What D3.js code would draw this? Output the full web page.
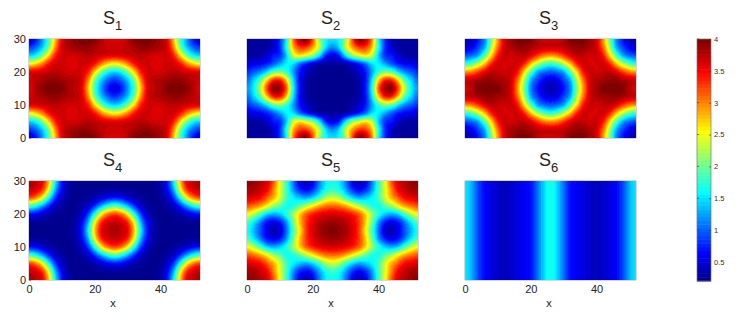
<!DOCTYPE html>
<html>
<head>
<meta charset="utf-8">
<title>S1 - S6</title>
<script src="https://cdn.jsdelivr.net/npm/d3@7"></script>
<style>
  body { margin: 0; background: #fff; }
  #chart { position: relative; width: 747px; height: 318px; overflow: hidden; }
  canvas { position: absolute; }
  svg { position: absolute; left: 0; top: 0; }
  text { font-family: "Liberation Sans", Arial, sans-serif; }
</style>
</head>
<body>
<div id="chart"></div>
<script>
// values, one quarter of each panel (the panels are mirror symmetric)
// rows are y = 0, 2.5 ... 15, columns are x = 0, 2 ... 26
const S1 = [
  [.5, .7, 1.2, 1.85, 2.8, 3.6, 3.84, 3.94, 4.0, 4.0, 3.96, 3.78, 3.66, 3.62],
  [.82, 1.0, 1.38, 2.05, 3.0, 3.66, 3.82, 3.88, 3.94, 3.92, 3.84, 3.76, 3.72, 3.7],
  [1.45, 1.6, 2.05, 2.7, 3.4, 3.66, 3.68, 3.68, 3.74, 3.78, 3.74, 3.68, 3.62, 3.6],
  [2.55, 2.7, 3.03, 3.45, 3.66, 3.68, 3.66, 3.66, 3.68, 3.66, 3.45, 3.03, 2.7, 2.55],
  [3.6, 3.62, 3.68, 3.74, 3.78, 3.74, 3.68, 3.68, 3.66, 3.4, 2.7, 2.05, 1.6, 1.45],
  [3.7, 3.76, 3.84, 3.92, 3.94, 3.88, 3.82, 3.78, 3.64, 3.0, 2.05, 1.38, 1.0, .82],
  [3.62, 3.78, 3.96, 4.0, 4.0, 4.0, 3.84, 3.76, 3.6, 2.8, 1.85, 1.2, .7, .5]
];
const S2 = [
  [.3, .25, .25, .28, .4, .8, 1.6, 3.0, 3.75, 3.95, 3.2, 2.15, 1.6, 1.45],
  [.25, .25, .25, .28, .42, .8, 1.7, 2.8, 3.3, 3.3, 2.9, 2.3, 1.45, 1.15],
  [.3, .28, .3, .42, .7, .8, 1.4, 2.3, 2.6, 2.4, 2.1, 1.5, .75, .5],
  [.5, .55, .6, .72, .95, 1.25, 1.55, 1.5, 1.05, .75, .5, .33, .27, .26],
  [.8, .95, 1.15, 1.5, 1.95, 2.05, 1.8, 1.25, .7, .42, .28, .24, .22, .22],
  [1.05, 1.4, 1.9, 2.7, 3.35, 3.4, 2.7, 1.5, .65, .3, .22, .21, .2, .2],
  [1.2, 1.55, 2.25, 3.2, 3.95, 3.85, 3.15, 1.65, .7, .3, .22, .2, .2, .2]
];
const S3 = [
  [.35, .42, .7, 1.15, 2.05, 2.95, 3.66, 3.86, 4.0, 4.0, 3.98, 3.78, 3.68, 3.66],
  [.48, .58, .87, 1.3, 2.25, 3.1, 3.68, 3.82, 3.92, 3.92, 3.84, 3.76, 3.72, 3.7],
  [.95, 1.03, 1.28, 1.93, 2.7, 3.45, 3.72, 3.68, 3.74, 3.76, 3.6, 3.3, 3.05, 2.95],
  [1.75, 1.93, 2.3, 2.8, 3.4, 3.68, 3.66, 3.66, 3.68, 3.4, 2.8, 2.3, 1.93, 1.75],
  [2.95, 3.05, 3.3, 3.6, 3.76, 3.74, 3.68, 3.72, 3.45, 2.7, 1.93, 1.28, 1.03, .95],
  [3.7, 3.76, 3.84, 3.92, 3.92, 3.86, 3.82, 3.68, 3.1, 2.25, 1.3, .87, .58, .48],
  [3.66, 3.78, 3.98, 4.0, 4.0, 4.0, 3.86, 3.66, 2.95, 2.05, 1.15, .7, .42, .35]
];
const S4 = [
  [3.85, 3.75, 3.55, 2.75, 1.55, .68, .3, .22, .2, .2, .2, .21, .21, .21],
  [3.72, 3.66, 3.35, 2.5, 1.3, .6, .28, .22, .2, .21, .22, .24, .25, .27],
  [3.25, 3.05, 2.55, 1.68, .85, .4, .24, .21, .22, .25, .33, .46, .62, .68],
  [1.88, 1.68, 1.28, .8, .42, .27, .22, .22, .27, .42, .8, 1.28, 1.68, 1.88],
  [.68, .62, .46, .33, .25, .22, .21, .24, .4, .85, 1.68, 2.55, 3.05, 3.25],
  [.27, .25, .24, .22, .21, .2, .22, .28, .6, 1.3, 2.5, 3.35, 3.66, 3.72],
  [.21, .21, .21, .2, .2, .2, .22, .3, .68, 1.55, 2.75, 3.55, 3.75, 3.85]
];
const S5 = [
  [3.95, 3.9, 3.8, 3.65, 3.2, 2.5, 1.8, 1.1, .55, .35, .6, 1.1, 1.55, 1.65],
  [3.85, 3.85, 3.72, 3.55, 3.05, 2.45, 1.85, 1.2, .75, .6, .8, 1.25, 1.65, 1.8],
  [3.65, 3.6, 3.5, 3.2, 2.85, 2.4, 1.85, 1.55, 1.35, 1.25, 1.45, 1.8, 2.2, 2.35],
  [3.2, 3.1, 2.9, 2.6, 2.2, 1.95, 1.65, 1.7, 1.95, 2.25, 2.55, 2.85, 3.05, 3.1],
  [2.55, 2.3, 1.9, 1.45, 1.3, 1.4, 1.7, 2.15, 2.7, 3.15, 3.4, 3.55, 3.62, 3.65],
  [1.9, 1.55, 1.1, .7, .55, .7, 1.2, 2.0, 2.75, 3.3, 3.6, 3.78, 3.86, 3.9],
  [1.65, 1.35, .95, .55, .35, .45, 1.05, 1.85, 2.6, 3.3, 3.65, 3.85, 3.95, 4.0]
];
// S6 has no y dependence, same columns
const S6_ROW = [1.5, 1.3, .9, .62, .5, .42, .4, .42, .5, .58, .68, 1.05, 1.45, 1.65];
const S6 = [S6_ROW, S6_ROW, S6_ROW, S6_ROW, S6_ROW, S6_ROW, S6_ROW];

const PANELS = [S1, S2, S3, S4, S5, S6];
const SUBSCRIPTS = ["1", "2", "3", "4", "5", "6"];
const X_TICKS = [0, 20, 40];
const Y_TICKS = [0, 10, 20, 30];
const CBAR_TICKS = [0.5, 1, 1.5, 2, 2.5, 3, 3.5, 4];
const X_MAX = 52;
const Y_MAX = 30;
const V_MIN = 0.2;
const V_MAX = 4;

const JET_STOPS = [0, 0.11, 0.365, 0.62, 0.87, 1];
const JET_COLORS = ["#00008f", "#0000ff", "#00ffff", "#ffff00", "#ff0000", "#800000"];
const LEVELS = 64;

const lefts = [29, 247, 465];
const tops = [39, 181];
const panelW = 171;
const panelH = 99;

const chart = d3.select("#chart");
const svg = chart.append("svg").attr("width", 747).attr("height", 318);

const jet = d3.scaleLinear().domain(JET_STOPS).range(JET_COLORS).interpolate(d3.interpolateRgb);
const level = d3.scaleLinear().domain([V_MIN, V_MAX]).range([0, LEVELS - 1]).clamp(true);
const palette = d3.range(LEVELS).map(i => d3.rgb(jet(i / (LEVELS - 1))));

// quarter grid -> whole panel grid
function mirrorGrid(q) {
  const rows = q.map(r => r.concat(r.slice(0, -1).reverse()));
  return rows.concat(rows.slice(0, -1).reverse());
}

// catmull-rom weights, for smoothing the grid on screen
function crWeights(t) {
  return [
    -0.5 * t + t * t - 0.5 * t * t * t,
    1 - 2.5 * t * t + 1.5 * t * t * t,
    0.5 * t + 2 * t * t - 1.5 * t * t * t,
    -0.5 * t * t + 0.5 * t * t * t
  ];
}

// index past the edge reflects back into the grid
function reflect(i, n) {
  const a = Math.abs(i);
  return a >= n ? 2 * n - 2 - a : a;
}

function sampleGrid(grid, gx, gy) {
  const ny = grid.length, nx = grid[0].length;
  const ix = Math.min(Math.floor(gx), nx - 2), iy = Math.min(Math.floor(gy), ny - 2);
  const wx = crWeights(gx - ix), wy = crWeights(gy - iy);
  let v = 0;
  for (let j = 0; j < 4; j++) {
    const row = grid[reflect(iy - 1 + j, ny)];
    for (let i = 0; i < 4; i++) {
      v += wy[j] * wx[i] * row[reflect(ix - 1 + i, nx)];
    }
  }
  return v;
}

function drawHeat(q, x, y, left, top) {
  const grid = mirrorGrid(q);
  const canvas = chart.append("canvas")
    .attr("width", panelW).attr("height", panelH)
    .style("left", left + "px").style("top", top + "px");
  const ctx = canvas.node().getContext("2d");
  const img = ctx.createImageData(panelW, panelH);
  const gxOf = d3.scaleLinear().domain([0, X_MAX]).range([0, grid[0].length - 1]);
  const gyOf = d3.scaleLinear().domain([0, Y_MAX]).range([0, grid.length - 1]);
  for (let py = 0; py < panelH; py++) {
    for (let px = 0; px < panelW; px++) {
      const vx = x.invert(left + px + 0.5), vy = y.invert(top + py + 0.5);
      const c = palette[Math.round(level(sampleGrid(grid, gxOf(vx), gyOf(vy))))];
      const k = (py * panelW + px) * 4;
      img.data[k] = c.r; img.data[k + 1] = c.g; img.data[k + 2] = c.b; img.data[k + 3] = 255;
    }
  }
  ctx.putImageData(img, 0, 0);
}

function styleAxis(g) {
  g.selectAll("text").attr("font-size", 11).attr("fill", "#222");
  g.selectAll("line").attr("stroke", "#555").attr("stroke-width", 0.6);
  g.select(".domain").remove();
}

PANELS.forEach((q, i) => {
  const col = i % 3, row = Math.floor(i / 3);
  const left = lefts[col], top = tops[row];
  const x = d3.scaleLinear().domain([0, X_MAX]).range([left, left + panelW]);
  const y = d3.scaleLinear().domain([0, Y_MAX]).range([top + panelH, top]);

  drawHeat(q, x, y, left, top);

  // thin frame round the image
  svg.append("rect")
    .attr("x", left).attr("y", top)
    .attr("width", panelW).attr("height", panelH)
    .attr("fill", "none").attr("stroke", "#777").attr("stroke-width", 0.6);

  if (col === 0) {
    svg.append("g")
      .attr("transform", `translate(${left},0)`)
      .call(d3.axisLeft(y).tickValues(Y_TICKS).tickSize(-2).tickPadding(3))
      .call(styleAxis);
  }
  if (row === 1) {
    svg.append("g")
      .attr("transform", `translate(0,${top + panelH})`)
      .call(d3.axisBottom(x).tickValues(X_TICKS).tickSize(-2).tickPadding(5))
      .call(styleAxis);

    svg.append("text")
      .attr("x", left + 84).attr("y", 307)
      .attr("text-anchor", "middle")
      .attr("font-size", 11).attr("fill", "#222")
      .text("x");
  }

  // title with subscript
  const title = svg.append("text")
    .attr("x", left + panelW / 2 - 2)
    .attr("y", top - 15)
    .attr("text-anchor", "middle")
    .attr("font-size", 18).attr("fill", "#222")
    .text("S");
  title.append("tspan")
    .attr("dy", 6).attr("font-size", 13)
    .text(SUBSCRIPTS[i]);
});

// colorbar
const cbLeft = 697, cbRight = 711, cbTop = 39, cbBottom = 281;
const cbY = d3.scaleLinear().domain([V_MIN, V_MAX]).range([cbBottom, cbTop]);
const levelValue = d3.scaleLinear().domain([0, LEVELS]).range([V_MIN, V_MAX]);

svg.selectAll(".cb-cell")
  .data(d3.range(LEVELS))
  .enter()
  .append("rect")
  .attr("class", "cb-cell")
  .attr("x", cbLeft)
  .attr("y", d => cbY(levelValue(d + 1)))
  .attr("width", cbRight - cbLeft)
  .attr("height", d => cbY(levelValue(d)) - cbY(levelValue(d + 1)) + 0.5)
  .attr("fill", d => palette[d].formatHex());

svg.append("rect")
  .attr("x", cbLeft).attr("y", cbTop)
  .attr("width", cbRight - cbLeft).attr("height", cbBottom - cbTop)
  .attr("fill", "none").attr("stroke", "#777").attr("stroke-width", 0.7);

const cbAxis = svg.append("g")
  .attr("transform", `translate(${cbRight},0)`)
  .call(d3.axisRight(cbY).tickValues(CBAR_TICKS).tickSize(-2).tickPadding(3).tickFormat(d3.format("")));
cbAxis.selectAll("text").attr("font-size", 7.5).attr("fill", "#333");
cbAxis.selectAll("line").attr("stroke", "#333").attr("stroke-width", 0.6);
cbAxis.select(".domain").remove();

svg.selectAll(".cb-left-tick")
  .data(CBAR_TICKS)
  .enter()
  .append("line")
  .attr("class", "cb-left-tick")
  .attr("x1", cbLeft).attr("x2", cbLeft + 2)
  .attr("y1", d => cbY(d)).attr("y2", d => cbY(d))
  .attr("stroke", "#333").attr("stroke-width", 0.6);
</script>
</body>
</html>
